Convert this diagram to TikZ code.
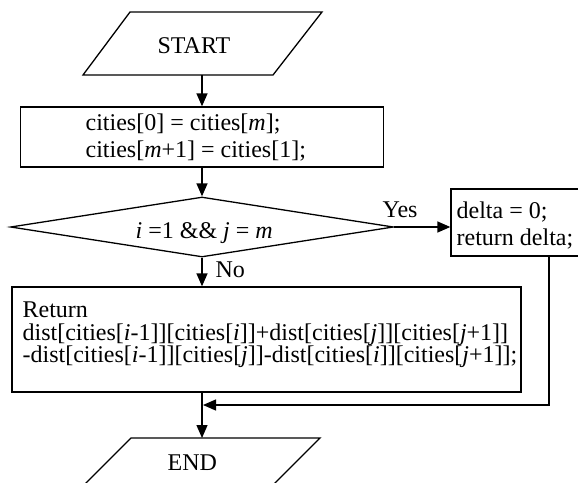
\documentclass[tikz,border=0pt]{standalone}
\usepackage{fontspec}
\setmainfont{Liberation Serif}
\usetikzlibrary{arrows.meta,shapes.geometric}
\begin{document}
\begin{tikzpicture}[x=1pt,y=-1pt,
  line width=1.3pt,
  arr/.style={-{Triangle[length=13pt,width=11pt]}},
  box/.style={draw, rectangle, inner sep=0pt},
  txt/.style={anchor=base west, inner sep=0pt, font=\fontsize{24}{28}\selectfont},
]
\useasboundingbox (0,0) rectangle (578,482);
\clip (0,0) rectangle (578,482);

% START
\draw (130,12) -- (322,12) -- (273,75) -- (83,75) -- cycle;
\node[txt] (start) at (157,53) {START};
\coordinate (startb) at (202,75);

% box 1
\node[box, minimum width=363pt, minimum height=60pt] (box1) at (202,137) {};
\node[txt] (b1a) at (85,130) {cities[0] = cities[\textit{m}];};
\node[txt] (b1b) at (85,157) {cities[\textit{m}+1] = cities[1];};

% decision
\node[draw, diamond, minimum width=383pt, minimum height=60pt, inner sep=0pt] (dec) at (202,227) {};
\node[txt] (dect) at (135,238) {\textit{i} =1 \&\& \textit{j} = \textit{m}};

% yes box
\node[box, minimum width=196pt, minimum height=67pt] (delta) at (549,222.5) {};
\node[txt] (d1) at (456,218) {delta = 0;};
\node[txt] (d2) at (456,245) {return delta;};
\node[txt] (yes) at (382,217) {Yes};

% no box
\node[box, minimum width=509pt, minimum height=105pt] (box2) at (266.5,339.5) {};
\node[txt] (r1) at (22,317) {Return};
\node[txt] (r2) at (22,340) {dist[cities[\textit{i}-1]][cities[\textit{i}]]+dist[cities[\textit{j}]][cities[\textit{j}+1]]};
\node[txt] (r3) at (22,362) {-dist[cities[\textit{i}-1]][cities[\textit{j}]]-dist[cities[\textit{i}]][cities[\textit{j}+1]];};
\node[txt] (no) at (215,277) {No};

% END
\draw (131,438) -- (320,438) -- (258,500) -- (69,500) -- cycle;
\node[txt] (end) at (167,470) {END};
\coordinate (endt) at (202,438);
\coordinate (merge) at (202,405);

% connectors
\draw[arr] (startb) -- (box1.north);
\draw[arr] (box1.south) -- (dec.north);
\draw[arr] (dec.south) -- (dec.south |- box2.north);
\draw[arr] (dec.east) -- (dec.east -| delta.west);
\draw[arr, shorten >=1pt] (delta.south) |- (merge);
\draw[arr] (endt |- box2.south) -- (endt);
\end{tikzpicture}
\end{document}
